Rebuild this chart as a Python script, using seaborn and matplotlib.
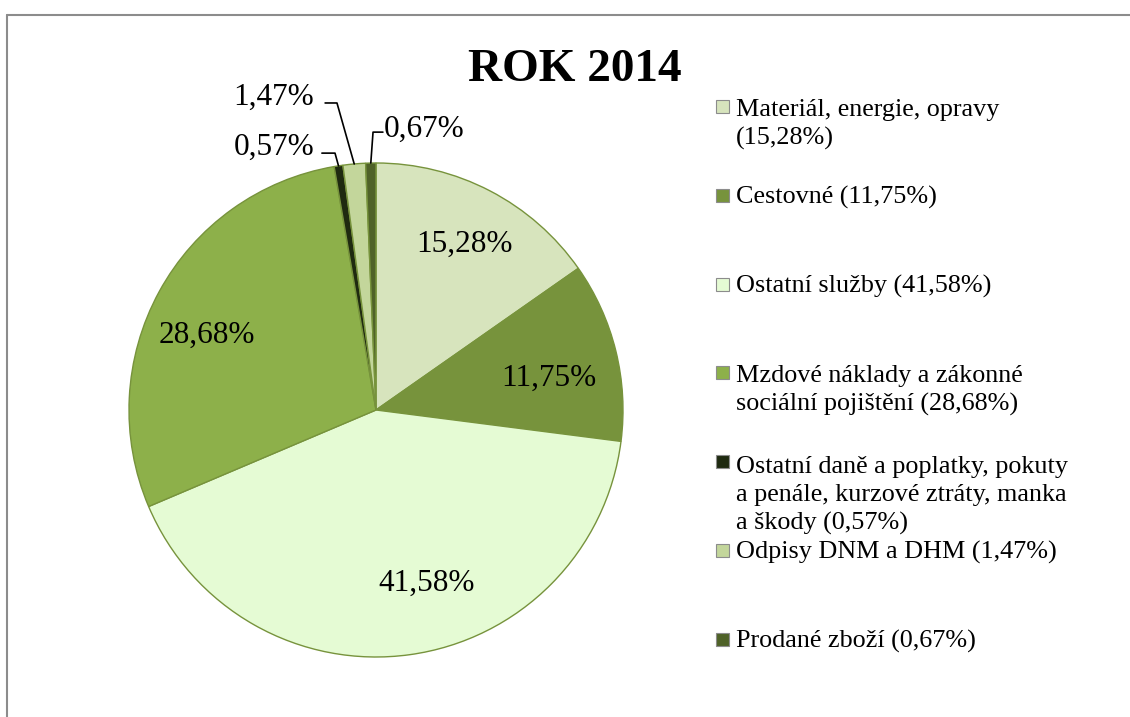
import numpy as np
import matplotlib.pyplot as plt
import seaborn as sns
from matplotlib.patches import Rectangle
from matplotlib.lines import Line2D

# data
categories = ["Materiál, energie, opravy", "Cestovné", "Ostatní služby",
              "Mzdové náklady a zákonné\nsociální pojištění",
              "Ostatní daně a poplatky, pokuty\na penále, kurzové ztráty, manka\na škody",
              "Odpisy DNM a DHM", "Prodané zboží"]
shares = [15.28, 11.75, 41.58, 28.68, 0.57, 1.47, 0.67]
pct_labels = ["15,28%", "11,75%", "41,58%", "28,68%", "0,57%", "1,47%", "0,67%"]
legend_labels = ["Materiál, energie, opravy\n(15,28%)", "Cestovné (11,75%)",
                 "Ostatní služby (41,58%)",
                 "Mzdové náklady a zákonné\nsociální pojištění (28,68%)",
                 "Ostatní daně a poplatky, pokuty\na penále, kurzové ztráty, manka\na škody (0,57%)",
                 "Odpisy DNM a DHM (1,47%)", "Prodané zboží (0,67%)"]
colors = ["#d7e4bd", "#77933c", "#e5fbd4", "#8db04a", "#1f2a10", "#c3d69b", "#4f6228"]

sns.set_style("white")
plt.rcParams['font.family'] = ['Liberation Serif', 'DejaVu Serif']
plt.rcParams['text.color'] = 'black'

W, H = 1130, 717
fig = plt.figure(figsize=(W / 100, H / 100), dpi=100)

# pie centre (376, 410) px, radius 247 px
cx, cy, r = 376, 410, 247
ax = fig.add_axes([(cx - r) / W, (H - cy - r) / H, 2 * r / W, 2 * r / H])
wedges, _ = ax.pie(shares, colors=colors, startangle=90, counterclock=False,
                   wedgeprops=dict(edgecolor="#77933c", linewidth=1.0))
ax.set_xlim(-1, 1)
ax.set_ylim(-1, 1)
ax.set_aspect('equal')
ax.axis('off')

# inside labels for the big slices (excel "best fit" nudges: radius, angle shift)
inside = {0: (0.76, -0.7), 1: (0.71, -3.3), 2: (0.73, 8.6), 3: (0.75, 4.8)}
for i, (d, shift) in inside.items():
    w = wedges[i]
    ang = np.deg2rad((w.theta1 + w.theta2) / 2 + shift)
    ax.text(d * np.cos(ang), d * np.sin(ang), pct_labels[i], ha='center', va='center',
            fontsize=22.5)

# outside labels with leader lines for small slices
outside = {
    4: dict(txt=(-0.25, 1.065), ha='right', start=(-0.219, 1.04), elbow=(-0.166, 1.04)),
    5: dict(txt=(-0.25, 1.267), ha='right', start=(-0.206, 1.243), elbow=(-0.158, 1.243)),
    6: dict(txt=(0.03, 1.138), ha='left', start=(0.028, 1.125), elbow=(-0.012, 1.125)),
}
for i, o in outside.items():
    w = wedges[i]
    ang = np.deg2rad((w.theta1 + w.theta2) / 2)
    px, py = np.cos(ang), np.sin(ang)
    ax.text(*o['txt'], pct_labels[i], ha=o['ha'], va='center', fontsize=22.5, clip_on=False)
    ax.plot([o['start'][0], o['elbow'][0], px], [o['start'][1], o['elbow'][1], py],
            color='black', linewidth=1.2, clip_on=False)

# title
fig.text(575 / W, 1 - 81 / H, "ROK 2014", ha='center', va='baseline',
         fontsize=34, fontweight='bold')

# legend
line_h = 29.5
for k, (lab, c) in enumerate(zip(legend_labels, colors)):
    base = 115 + k * 88.8
    nlines = lab.count("\n") + 1
    fig.patches.append(Rectangle((716 / W, 1 - (base - 2) / H), 13 / W, 13 / H,
                                 transform=fig.transFigure, facecolor=c,
                                 edgecolor='#8c8c8c', linewidth=0.8))
    fig.text(736 / W, 1 - (base + (nlines - 1) * line_h) / H, lab, ha='left',
             va='baseline', fontsize=18.8, linespacing=1.34)

# chart frame (cut off at right and bottom)
fig.lines.append(Line2D([7 / W, 1.01], [1 - 15 / H, 1 - 15 / H], transform=fig.transFigure,
                        color='#8c8c8c', linewidth=1.5))
fig.lines.append(Line2D([7 / W, 7 / W], [1 - 15 / H, -0.01], transform=fig.transFigure,
                        color='#8c8c8c', linewidth=1.5))

fig.savefig("out.png", dpi=100)
